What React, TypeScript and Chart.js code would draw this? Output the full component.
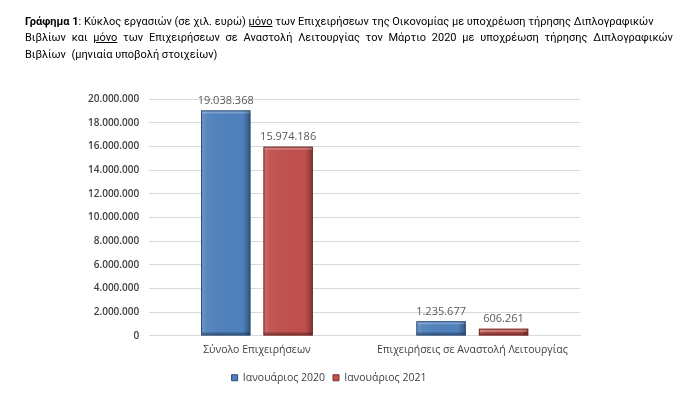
import React, { useEffect, useRef } from "react";
import { Chart, registerables } from "chart.js";

Chart.register(...registerables);

const categories = ["Σύνολο Επιχειρήσεων", "Επιχειρήσεις σε Αναστολή Λειτουργίας"];
const seriesNames = ["Ιανουάριος 2020", "Ιανουάριος 2021"];
const jan2020 = [19038368, 1235677];
const jan2021 = [15974186, 606261];
const colors = ["#4F81BD", "#C0504D"];
const borders = ["#2c4d75", "#772c2a"];

const fmt = (v: number) => Math.round(v).toString().replace(/\B(?=(\d{3})+(?!\d))/g, ".");

const FONT = "'Open Sans', 'Noto Sans', sans-serif";
const TFONT = "Roboto, 'Open Sans', sans-serif";

const bevelPlugin = {
  id: "bevel",
  afterDatasetsDraw(chart: any) {
    const ctx = chart.ctx;
    chart.data.datasets.forEach((ds: any, di: number) => {
      const meta = chart.getDatasetMeta(di);
      meta.data.forEach((bar: any, i: number) => {
        const { x, y, base, width } = bar.getProps(["x", "y", "base", "width"], true);
        const l = x - width / 2;
        const h = base - y;
        ctx.save();
        const g = ctx.createLinearGradient(l, 0, l + width, 0);
        g.addColorStop(0, "rgba(255,255,255,0.18)");
        g.addColorStop(0.12, "rgba(255,255,255,0.05)");
        g.addColorStop(0.85, "rgba(0,0,0,0.0)");
        g.addColorStop(1, "rgba(0,0,0,0.35)");
        ctx.fillStyle = g;
        ctx.fillRect(l, y, width, h);
        const bev = Math.min(3, h / 2);
        ctx.fillStyle = "rgba(255,255,255,0.25)";
        ctx.fillRect(l, y, width, bev);
        ctx.fillStyle = "rgba(0,0,0,0.25)";
        ctx.fillRect(l, base - bev, width, bev);
        ctx.strokeStyle = borders[di];
        ctx.lineWidth = 1;
        ctx.strokeRect(l + 0.5, y + 0.5, width - 1, h - 1);
        ctx.restore();
        ctx.save();
        ctx.fillStyle = "#595959";
        ctx.font = `11px ${FONT}`;
        ctx.textAlign = "center";
        ctx.textBaseline = "bottom";
        ctx.fillText(fmt(ds.data[i]), x, y - 4);
        ctx.restore();
      });
    });
  },
};

export default function App() {
  const ref = useRef<HTMLCanvasElement>(null);
  useEffect(() => {
    if (!ref.current) return;
    const chart = new Chart(ref.current, {
      type: "bar",
      data: {
        labels: categories,
        datasets: [
          { label: seriesNames[0], data: jan2020, backgroundColor: colors[0], borderWidth: 0 },
          { label: seriesNames[1], data: jan2021, backgroundColor: colors[1], borderWidth: 0 },
        ],
      },
      options: {
        animation: false,
        responsive: false,
        maintainAspectRatio: false,
        layout: { padding: { left: 78, right: 120, top: 99, bottom: 0 } },
        datasets: { bar: { categoryPercentage: 0.58, barPercentage: 0.79 } },
        scales: {
          x: {
            grid: { display: false, drawTicks: false },
            border: { display: true, color: "#d9d9d9" },
            ticks: { color: "#404040", font: { family: FONT, size: 10.5 }, padding: 8 },
          },
          y: {
            min: 0,
            max: 20000000,
            ticks: {
              stepSize: 2000000,
              color: "#404040",
              font: { family: FONT, size: 10, weight: "600" },
              padding: 10,
              callback: (v: any) => fmt(Number(v)),
            },
            grid: { color: "#d9d9d9", drawTicks: false },
            border: { display: false },
          },
        },
        plugins: {
          legend: {
            position: "bottom",
            labels: {
              boxWidth: 6,
              boxHeight: 6,
              color: "#404040",
              font: { family: FONT, size: 10.5 },
              padding: 8,
              generateLabels: (c: any) =>
                c.data.datasets.map((d: any, i: number) => ({
                  text: d.label,
                  fillStyle: colors[i],
                  strokeStyle: borders[i],
                  lineWidth: 1,
                  fontColor: "#404040",
                  datasetIndex: i,
                  hidden: false,
                })),
            },
          },
          tooltip: { enabled: false },
        },
      },
      plugins: [bevelPlugin],
    });
    return () => chart.destroy();
  }, []);

  const textStyle: React.CSSProperties = {
    position: "absolute",
    left: 25,
    fontFamily: TFONT,
    fontSize: 11,
    color: "#000",
    whiteSpace: "nowrap",
    lineHeight: "16px",
  };

  return (
    <div style={{ position: "absolute", left: 0, top: 0, width: 700, height: 393, background: "#fff", overflow: "hidden" }}>
      <canvas ref={ref} width={700} height={393} style={{ position: "absolute", left: 0, top: 0 }} />
      <div style={{ ...textStyle, top: 14 }}>
        <b>Γράφημα 1</b>: Κύκλος εργασιών (σε χιλ. ευρώ) <u>μόνο</u> των Επιχειρήσεων της Οικονομίας με υποχρέωση τήρησης Διπλογραφικών
      </div>
      <div style={{ ...textStyle, top: 30, width: 648, display: "flex", justifyContent: "space-between" }}>
        {"Βιβλίων και |μόνο| των Επιχειρήσεων σε Αναστολή Λειτουργίας τον Μάρτιο 2020 με υποχρέωση τήρησης Διπλογραφικών"
          .split(" ")
          .map((w, i) => (w.startsWith("|") ? <u key={i}>{w.replace(/\|/g, "")}</u> : <span key={i}>{w}</span>))}
      </div>
      <div style={{ ...textStyle, top: 47 }}>Βιβλίων&nbsp; (μηνιαία υποβολή στοιχείων)</div>
    </div>
  );
}
